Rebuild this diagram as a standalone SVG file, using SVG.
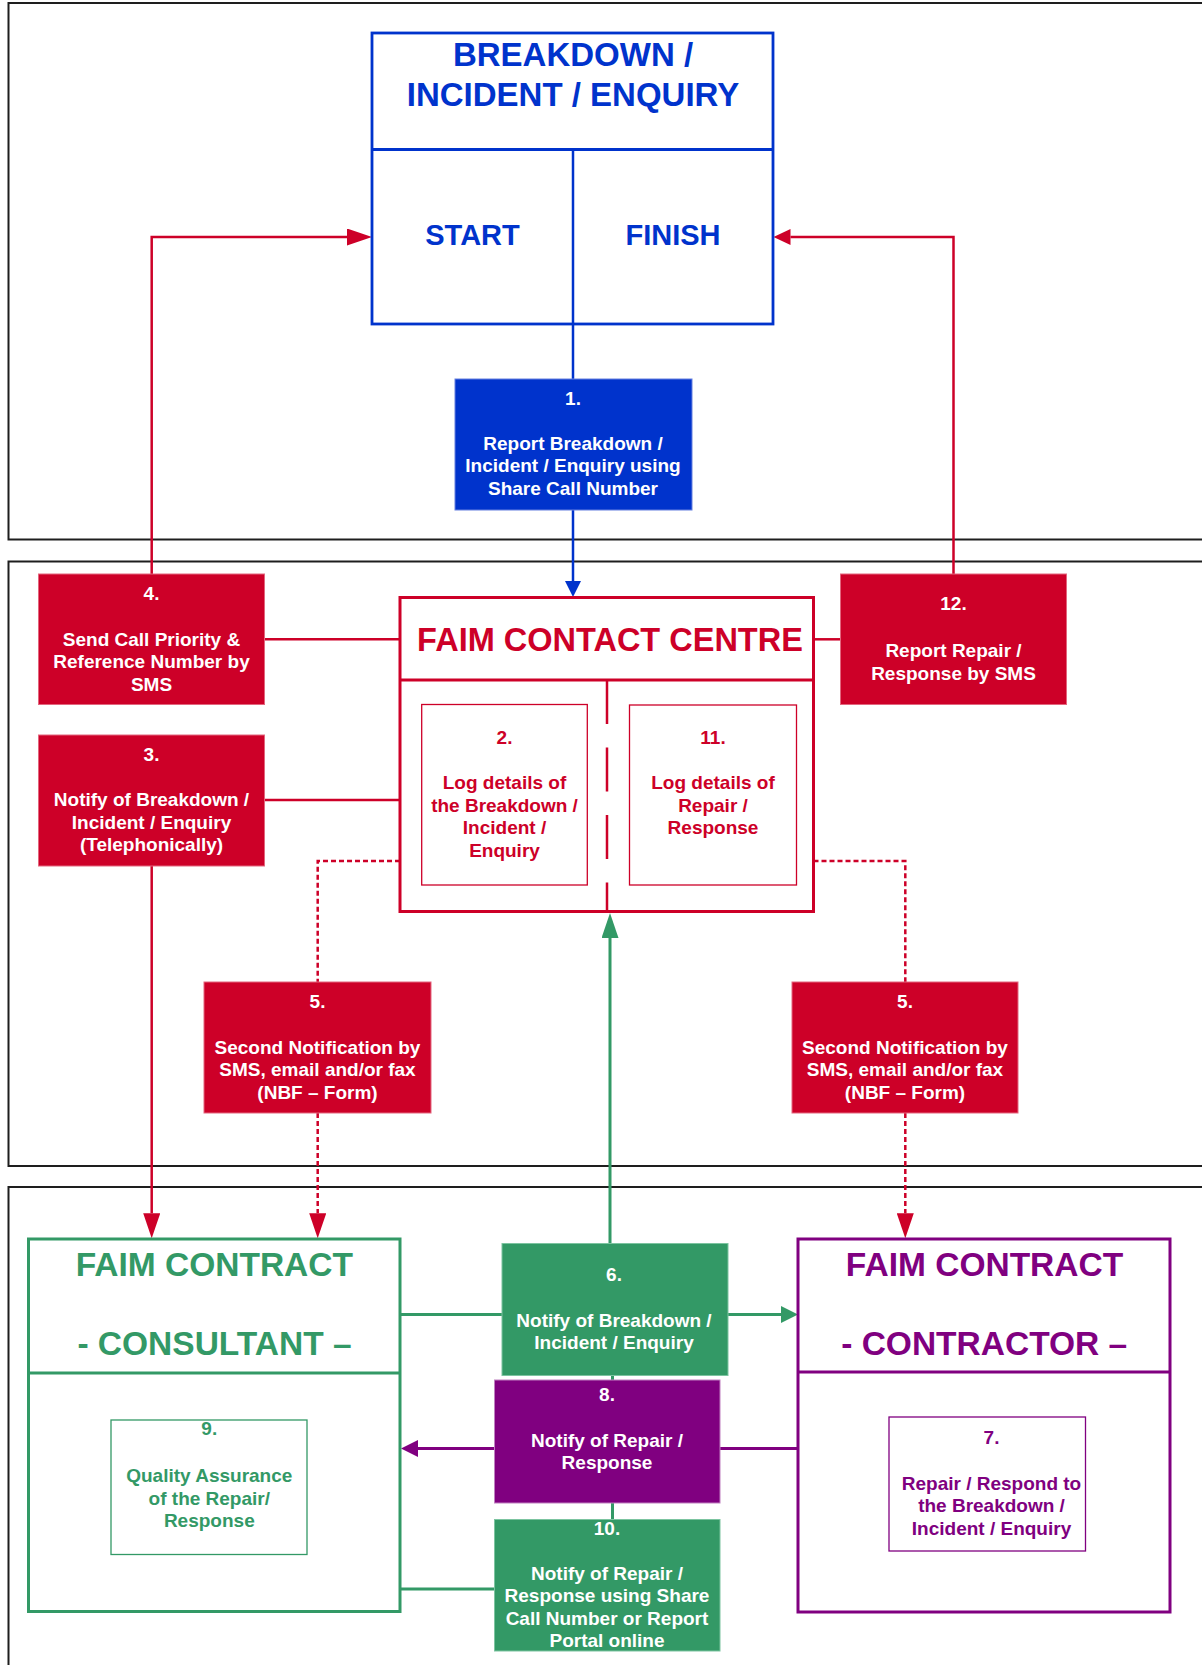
<svg xmlns="http://www.w3.org/2000/svg" width="1202" height="1665" viewBox="0 0 1202 1665">
  <style>
    .panel { fill: none; stroke: #1e1e1e; stroke-width: 2; }
    .t { font-family: "Liberation Sans", Arial, sans-serif; font-weight: bold; text-anchor: middle; }
    .body { font-size: 19px; }
    .wt { fill: #ffffff; }
    .blue { fill: #0033CC; }
    .red { fill: #CD0028; }
    .green { fill: #339966; }
    .purple { fill: #800080; }
    .boxRed { fill: #CD0028; stroke: #e3667e; stroke-width: 1; }
    .boxBlue { fill: #0033CC; stroke: #6680e0; stroke-width: 1; }
    .boxGreen { fill: #339966; stroke: #7cc4a0; stroke-width: 1; }
    .boxPurple { fill: #800080; stroke: #c080c0; stroke-width: 1; }
    .frameBlue { fill: #ffffff; stroke: #0033CC; stroke-width: 2.8; }
    .frameRed { fill: #ffffff; stroke: #CD0028; stroke-width: 3; }
    .frameGreen { fill: #ffffff; stroke: #339966; stroke-width: 3; }
    .framePurple { fill: #ffffff; stroke: #800080; stroke-width: 3; }
    .innerRed { fill: #ffffff; stroke: #CD0028; stroke-width: 1.3; }
    .innerGreen { fill: #ffffff; stroke: #339966; stroke-width: 1.3; }
    .innerPurple { fill: #ffffff; stroke: #800080; stroke-width: 1.3; }
    .cRed { fill: none; stroke: #CD0028; stroke-width: 2.5; }
    .cDot { fill: none; stroke: #CD0028; stroke-width: 2.5; stroke-dasharray: 5 3; }
    .cBlue { fill: none; stroke: #0033CC; stroke-width: 2.5; }
    .cGreen { fill: none; stroke: #339966; stroke-width: 3; }
    .cPurple { fill: none; stroke: #800080; stroke-width: 3; }
  </style>
  <defs>
    <marker id="arRedL" markerUnits="userSpaceOnUse" markerWidth="25" markerHeight="17" viewBox="0 0 25 17" refX="0" refY="8.5" orient="auto">
      <path d="M0,0 L25,8.5 L0,17 z" fill="#CD0028"/>
    </marker>
    <marker id="arRedS" markerUnits="userSpaceOnUse" markerWidth="17" markerHeight="16" viewBox="0 0 17 16" refX="0" refY="8" orient="auto">
      <path d="M0,0 L17,8 L0,16 z" fill="#CD0028"/>
    </marker>
    <marker id="arBlueS" markerUnits="userSpaceOnUse" markerWidth="16" markerHeight="16" viewBox="0 0 16 16" refX="0" refY="8" orient="auto">
      <path d="M0,0 L16,8 L0,16 z" fill="#0033CC"/>
    </marker>
    <marker id="arGreenL" markerUnits="userSpaceOnUse" markerWidth="25" markerHeight="17" viewBox="0 0 25 17" refX="0" refY="8.5" orient="auto">
      <path d="M0,0 L25,8.5 L0,17 z" fill="#339966"/>
    </marker>
    <marker id="arGreenS" markerUnits="userSpaceOnUse" markerWidth="17" markerHeight="17" viewBox="0 0 17 17" refX="0" refY="8.5" orient="auto">
      <path d="M0,0 L17,8.5 L0,17 z" fill="#339966"/>
    </marker>
    <marker id="arPurpleS" markerUnits="userSpaceOnUse" markerWidth="17" markerHeight="17" viewBox="0 0 17 17" refX="0" refY="8.5" orient="auto">
      <path d="M0,0 L17,8.5 L0,17 z" fill="#800080"/>
    </marker>
  </defs>

  <rect width="1202" height="1665" fill="#ffffff"/>

  <!-- swim-lane panels (open to the right) -->
  <g id="panels">
    <rect class="panel" x="8.5" y="3" width="1210" height="536.5"/>
    <rect class="panel" x="8.5" y="561.5" width="1210" height="604.5"/>
    <rect class="panel" x="8.5" y="1187" width="1210" height="520"/>
  </g>

  <!-- connectors -->
  <g id="connectors">
    <path class="cRed" d="M151.7,574 V237 H347" marker-end="url(#arRedL)"/>
    <path class="cRed" d="M953.5,574 V237 H790.5" marker-end="url(#arRedS)"/>
    <path class="cRed" d="M264.5,639.3 H400"/>
    <path class="cRed" d="M813.5,639.3 H840.5"/>
    <path class="cRed" d="M264.5,800 H400"/>
    <path class="cRed" d="M151.7,866 V1213.3" marker-end="url(#arRedL)"/>
    <path class="cDot" d="M400,861 H317.7 V982"/>
    <path class="cDot" d="M317.7,1113 V1213.3" marker-end="url(#arRedL)"/>
    <path class="cDot" d="M813.5,861 H905.3 V982"/>
    <path class="cDot" d="M905.3,1113 V1213.3" marker-end="url(#arRedL)"/>
    <path class="cBlue" d="M573,324 V379"/>
    <path class="cBlue" d="M573,510 V581" marker-end="url(#arBlueS)"/>
    <path class="cGreen" d="M610,1243.5 V938" marker-end="url(#arGreenL)"/>
    <path class="cGreen" d="M400,1314.5 H502"/>
    <path class="cGreen" d="M728,1314.5 H781" marker-end="url(#arGreenS)"/>
    <path class="cPurple" d="M798,1448.5 H720"/>
    <path class="cPurple" d="M494.5,1448.5 H418" marker-end="url(#arPurpleS)"/>
    <path class="cGreen" d="M494.5,1589 H400"/>
    <path class="cGreen" d="M612.5,1375.5 V1519.5" stroke-width="2.5"/>
  </g>

  <!-- start / finish -->
  <g id="node-start-finish">
    <rect class="frameBlue" x="372" y="33" width="401" height="291"/>
    <line x1="372" y1="149.5" x2="773" y2="149.5" stroke="#0033CC" stroke-width="2.8"/>
    <line x1="573" y1="149.5" x2="573" y2="324" stroke="#0033CC" stroke-width="2.5"/>
    <text class="t blue" font-size="33"><tspan x="573" y="66">BREAKDOWN /</tspan><tspan x="573" y="106">INCIDENT / ENQUIRY</tspan></text>
    <text class="t blue" font-size="29" x="472.5" y="245">START</text>
    <text class="t blue" font-size="29" x="673" y="245">FINISH</text>
  </g>

  <g id="node-1">
    <rect class="boxBlue" x="455" y="379" width="237" height="131"/>
    <text class="t body wt"><tspan x="573" y="405">1.</tspan><tspan x="573" y="449.5">Report Breakdown /</tspan><tspan x="573" y="472">Incident / Enquiry using</tspan><tspan x="573" y="494.5">Share Call Number</tspan></text>
  </g>

  <!-- contact centre -->
  <g id="node-contact-centre">
    <rect class="frameRed" x="400" y="597.5" width="413.5" height="314"/>
    <line x1="400" y1="680" x2="813.5" y2="680" stroke="#CD0028" stroke-width="3"/>
    <line x1="607" y1="680" x2="607" y2="911.5" stroke="#CD0028" stroke-width="2.5" stroke-dasharray="44 23.5"/>
    <text class="t red" font-size="32.5" x="610" y="651">FAIM CONTACT CENTRE</text>
  </g>

  <g id="node-2">
    <rect class="innerRed" x="421.7" y="704.5" width="165.6" height="180.5"/>
    <text class="t body red"><tspan x="504.5" y="743.5">2.</tspan><tspan x="504.5" y="789">Log details of</tspan><tspan x="504.5" y="811.5">the Breakdown /</tspan><tspan x="504.5" y="834">Incident /</tspan><tspan x="504.5" y="856.5">Enquiry</tspan></text>
  </g>

  <g id="node-11">
    <rect class="innerRed" x="629.5" y="705" width="167" height="180"/>
    <text class="t body red"><tspan x="713" y="743.5">11.</tspan><tspan x="713" y="789">Log details of</tspan><tspan x="713" y="811.5">Repair /</tspan><tspan x="713" y="834">Response</tspan></text>
  </g>

  <g id="node-4">
    <rect class="boxRed" x="38.5" y="574" width="226" height="130.5"/>
    <text class="t body wt"><tspan x="151.5" y="599.5">4.</tspan><tspan x="151.5" y="645.5">Send Call Priority &amp;</tspan><tspan x="151.5" y="668">Reference Number by</tspan><tspan x="151.5" y="690.5">SMS</tspan></text>
  </g>

  <g id="node-12">
    <rect class="boxRed" x="840.5" y="574" width="226" height="130.5"/>
    <text class="t body wt"><tspan x="953.5" y="610">12.</tspan><tspan x="953.5" y="657">Report Repair /</tspan><tspan x="953.5" y="679.5">Response by SMS</tspan></text>
  </g>

  <g id="node-3">
    <rect class="boxRed" x="38.5" y="735" width="226" height="131"/>
    <text class="t body wt"><tspan x="151.5" y="760.5">3.</tspan><tspan x="151.5" y="806">Notify of Breakdown /</tspan><tspan x="151.5" y="828.5">Incident / Enquiry</tspan><tspan x="151.5" y="851">(Telephonically)</tspan></text>
  </g>

  <g id="node-5-consultant">
    <rect class="boxRed" x="204" y="982" width="227" height="131"/>
    <text class="t body wt"><tspan x="317.5" y="1007.5">5.</tspan><tspan x="317.5" y="1053.5">Second Notification by</tspan><tspan x="317.5" y="1076">SMS, email and/or fax</tspan><tspan x="317.5" y="1098.5">(NBF – Form)</tspan></text>
  </g>

  <g id="node-5-contractor">
    <rect class="boxRed" x="792" y="982" width="226" height="131"/>
    <text class="t body wt"><tspan x="905" y="1007.5">5.</tspan><tspan x="905" y="1053.5">Second Notification by</tspan><tspan x="905" y="1076">SMS, email and/or fax</tspan><tspan x="905" y="1098.5">(NBF – Form)</tspan></text>
  </g>

  <!-- consultant -->
  <g id="node-consultant">
    <rect class="frameGreen" x="28.5" y="1239" width="371.5" height="372.5"/>
    <line x1="28.5" y1="1373" x2="400" y2="1373" stroke="#339966" stroke-width="3"/>
    <text class="t green" font-size="33.5"><tspan x="214.3" y="1276">FAIM CONTRACT</tspan><tspan x="214.5" y="1355">- CONSULTANT –</tspan></text>
  </g>

  <g id="node-9">
    <rect class="innerGreen" x="111" y="1420" width="196" height="134.5"/>
    <text class="t body green"><tspan x="209.3" y="1435">9.</tspan><tspan x="209.3" y="1482">Quality Assurance</tspan><tspan x="209.3" y="1504.5">of the Repair/</tspan><tspan x="209.3" y="1527">Response</tspan></text>
  </g>

  <!-- contractor -->
  <g id="node-contractor">
    <rect class="framePurple" x="798" y="1239" width="372" height="373"/>
    <line x1="798" y1="1372" x2="1170" y2="1372" stroke="#800080" stroke-width="3"/>
    <text class="t purple" font-size="33.5"><tspan x="984.5" y="1276">FAIM CONTRACT</tspan><tspan x="984.2" y="1355">- CONTRACTOR –</tspan></text>
  </g>

  <g id="node-7">
    <rect class="innerPurple" x="889" y="1417" width="196.5" height="134"/>
    <text class="t body purple"><tspan x="991.5" y="1444">7.</tspan><tspan x="991.5" y="1489.5">Repair / Respond to</tspan><tspan x="991.5" y="1512">the Breakdown /</tspan><tspan x="991.5" y="1534.5">Incident / Enquiry</tspan></text>
  </g>

  <g id="node-6">
    <rect class="boxGreen" x="502" y="1243.5" width="226" height="132"/>
    <text class="t body wt"><tspan x="614" y="1281">6.</tspan><tspan x="614" y="1326.5">Notify of Breakdown /</tspan><tspan x="614" y="1348.5">Incident / Enquiry</tspan></text>
  </g>

  <g id="node-8">
    <rect class="boxPurple" x="494.5" y="1380" width="225.5" height="123"/>
    <text class="t body wt"><tspan x="607" y="1401">8.</tspan><tspan x="607" y="1446.5">Notify of Repair /</tspan><tspan x="607" y="1468.5">Response</tspan></text>
  </g>

  <g id="node-10">
    <rect class="boxGreen" x="494.5" y="1519.5" width="225.5" height="131.5"/>
    <text class="t body wt"><tspan x="607" y="1534.5">10.</tspan><tspan x="607" y="1579.5">Notify of Repair /</tspan><tspan x="607" y="1602">Response using Share</tspan><tspan x="607" y="1624.5">Call Number or Report</tspan><tspan x="607" y="1647">Portal online</tspan></text>
  </g>
</svg>
